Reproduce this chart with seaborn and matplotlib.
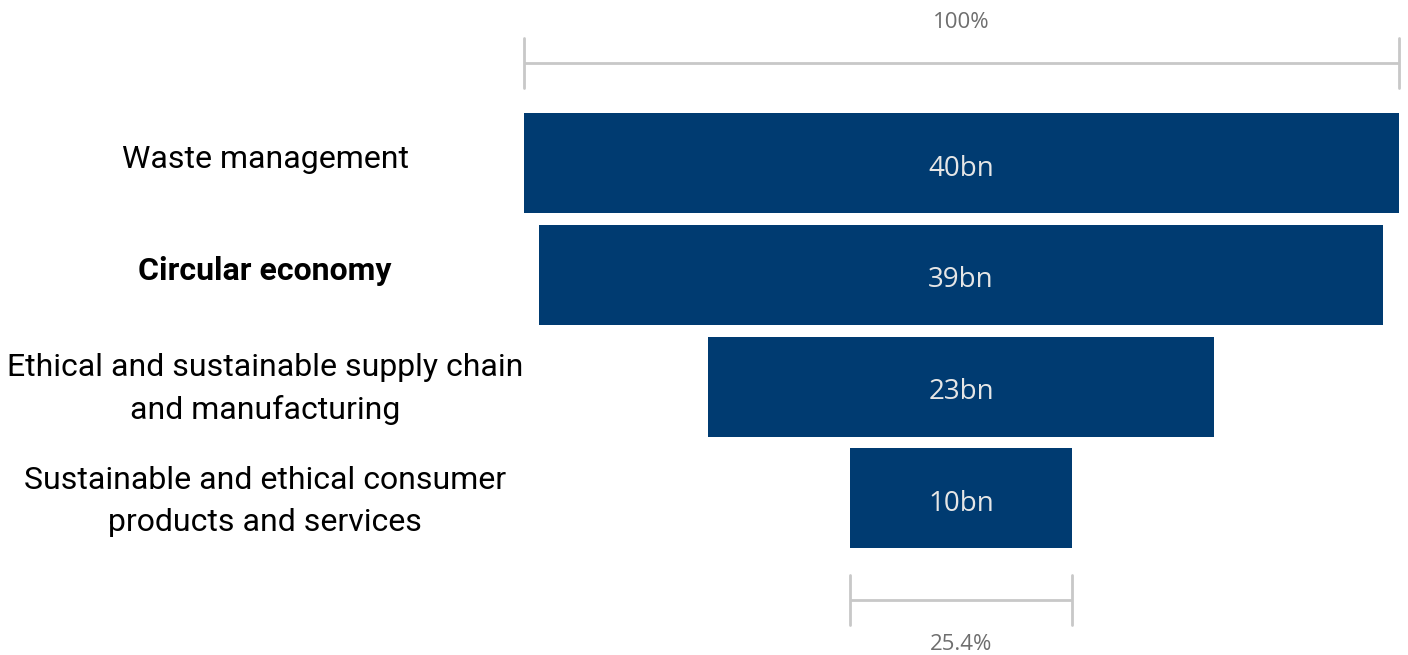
import matplotlib
matplotlib.use("Agg")
import matplotlib.pyplot as plt
import seaborn as sns
import pandas as pd

# Market size by segment (bn)
categories = [
    "Waste management",
    "Circular economy",
    "Ethical and sustainable supply chain\nand manufacturing",
    "Sustainable and ethical consumer\nproducts and services",
]
values = [40.0, 38.6, 23.1, 10.15]
bold_category = "Circular economy"

df = pd.DataFrame({"segment": categories, "value": values})

sns.set_theme(style="white")
plt.rcParams["font.family"] = ["Roboto", "DejaVu Sans"]

W, H = 1408, 655
fig = plt.figure(figsize=(W / 100, H / 100), dpi=100)
ax = fig.add_axes([0, 0, 1, 1])

bar_color = "#003b71"
sns.barplot(data=df, x="value", y="segment", orient="h", color=bar_color,
            width=0.895, saturation=1, linewidth=0, ax=ax)

# centre every bar on zero to form the funnel
for patch in ax.patches:
    w = patch.get_width()
    patch.set_x(-w / 2)

# layout: pixel scale of the value axis and category pitch
px_per_unit = 875 / values[0]
cx = 961
ax.set_xlim(-cx / px_per_unit, (W - cx) / px_per_unit)
pitch = 111.8
top_c = 163
ax.set_ylim((H - top_c) / pitch, -top_c / pitch)
ax.axis("off")

def py(pix):
    return (pix - top_c) / pitch

# value labels inside the bars
for i, v in enumerate(values):
    ax.text(0, i + 0.05, f"{v:.0f}bn", ha="center", va="center",
            color="#e6e6e6", fontsize=20, family=["Open Sans", "DejaVu Sans"])

# category labels
label_x = (265 - cx) / px_per_unit
for i, c in enumerate(categories):
    ax.text(label_x, i - 0.03 if "\n" not in c else i + 0.025, c,
            ha="center", va="center", color="black", fontsize=23,
            fontweight="bold" if c == bold_category else "normal",
            linespacing=1.55)

# brackets showing the first and last stages relative to the first
bracket_color = "#c8c8c8"
def bracket(half, yline, tick):
    ax.plot([-half, half], [yline, yline], color=bracket_color, lw=2, solid_capstyle="butt")
    for xx in (-half, half):
        ax.plot([xx, xx], [yline - tick, yline + tick], color=bracket_color, lw=2)

tick = 25 / pitch
bracket(values[0] / 2, py(63), tick)
ax.text(0, py(22), "100%", ha="center", va="center", color="#6e6e6e",
        fontsize=16, family=["Open Sans", "DejaVu Sans"])

bracket(values[-1] / 2, py(600), tick)
share = values[-1] / values[0] * 100
ax.text(0, py(644), f"{share:.1f}%", ha="center", va="center", color="#6e6e6e",
        fontsize=16, family=["Open Sans", "DejaVu Sans"])

fig.savefig("out.png", dpi=100)
